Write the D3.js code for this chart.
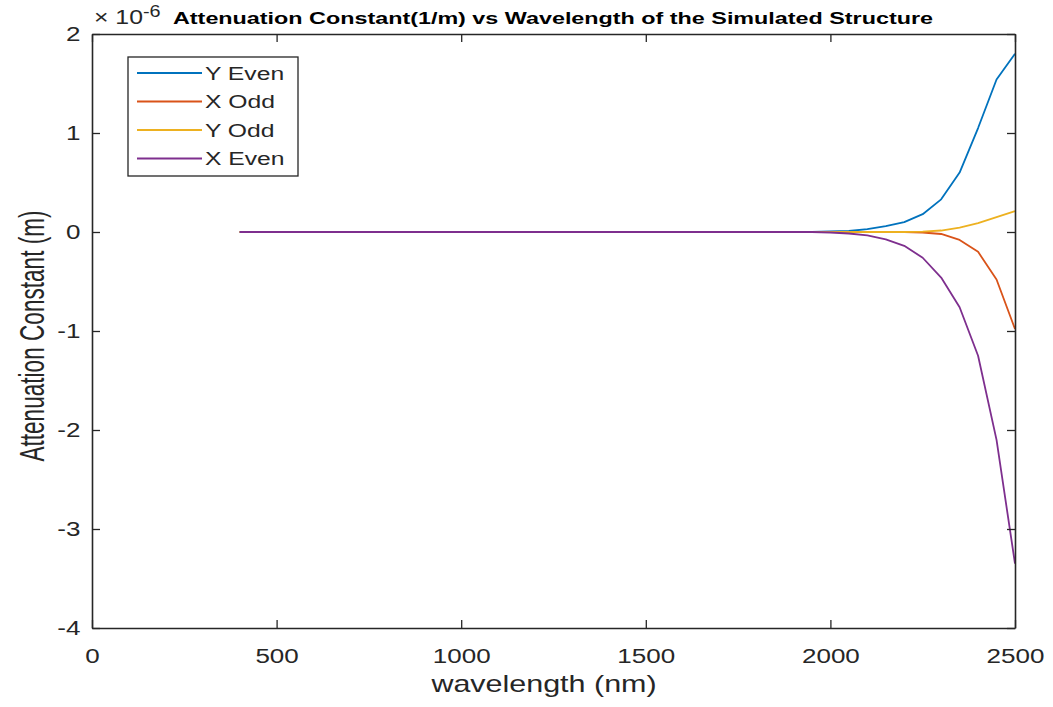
<!DOCTYPE html>
<html>
<head>
<meta charset="utf-8">
<script src="https://cdn.jsdelivr.net/npm/d3@7"></script>
<style>
  html, body { margin: 0; padding: 0; background: #fff; }
  svg { display: block; font-family: "Liberation Sans", Arial, Helvetica, sans-serif; }
</style>
</head>
<body>
<svg id="chart" width="1053" height="707"></svg>
<script>
// Wavelength samples (nm)
const wavelength = [
  400, 450, 500, 550, 600, 650, 700, 750, 800, 850,
  900, 950, 1000, 1050, 1100, 1150, 1200, 1250, 1300, 1350,
  1400, 1450, 1500, 1550, 1600, 1650, 1700, 1750, 1800, 1850,
  1900, 1950, 2000, 2050, 2100, 2150, 2200, 2250, 2300, 2350,
  2400, 2450, 2500
];

// Attenuation constant per mode, in units of 1e-6
const yEven = [
  0, 0, 0, 0, 0, 0, 0, 0, 0, 0,
  0, 0, 0, 0, 0, 0, 0, 0, 0, 0,
  0, 0, 0, 0, 0, 0, 0, 0, 0, 0,
  0, 0, 0.005, 0.01, 0.03, 0.06, 0.1, 0.18, 0.33, 0.6,
  1.05, 1.54, 1.8
];
const xOdd = [
  0, 0, 0, 0, 0, 0, 0, 0, 0, 0,
  0, 0, 0, 0, 0, 0, 0, 0, 0, 0,
  0, 0, 0, 0, 0, 0, 0, 0, 0, 0,
  0, 0, 0, 0, 0, 0, 0, -0.005, -0.02, -0.08,
  -0.2, -0.48, -0.98
];
const yOdd = [
  0, 0, 0, 0, 0, 0, 0, 0, 0, 0,
  0, 0, 0, 0, 0, 0, 0, 0, 0, 0,
  0, 0, 0, 0, 0, 0, 0, 0, 0, 0,
  0, 0, 0, 0, 0, 0, 0, 0.003, 0.015, 0.045,
  0.09, 0.15, 0.21
];
const xEven = [
  0, 0, 0, 0, 0, 0, 0, 0, 0, 0,
  0, 0, 0, 0, 0, 0, 0, 0, 0, 0,
  0, 0, 0, 0, 0, 0, 0, 0, 0, 0,
  0, 0, -0.005, -0.015, -0.035, -0.075, -0.14, -0.26, -0.46, -0.76,
  -1.25, -2.1, -3.35
];

const seriesNames = ["Y Even", "X Odd", "Y Odd", "X Even"];
const seriesValues = [yEven, xOdd, yOdd, xEven];
const seriesColors = ["#0072BD", "#D95319", "#EDB120", "#7E2F8E"];

const xTicks = [0, 500, 1000, 1500, 2000, 2500];
const yTicks = [-4, -3, -2, -1, 0, 1, 2];

const titleText = "Attenuation Constant(1/m) vs Wavelength of the Simulated Structure";
const xLabelText = "wavelength (nm)";
const yLabelText = "Attenuation Constant (m)";

// Layout
const plot = { left: 92, right: 1015, top: 34, bottom: 628 };
const axisColor = "#262626";
const tickLen = 8;
const wide = 1.24;   // horizontal widening applied to the text glyphs

const svg = d3.select("#chart");

const x = d3.scaleLinear().domain([0, 2500]).range([plot.left, plot.right]);
const y = d3.scaleLinear().domain([-4, 2]).range([plot.bottom, plot.top]);

// Data lines
const line = d3.line()
  .x((d, i) => x(wavelength[i]))
  .y(d => y(d));

const g = svg.append("g");
seriesValues.forEach((vals, k) => {
  g.append("path")
    .datum(vals)
    .attr("fill", "none")
    .attr("stroke", seriesColors[k])
    .attr("stroke-width", 1.8)
    .attr("stroke-linejoin", "round")
    .attr("d", line);
});

// Axes box with inward ticks on all four sides
const plain = d => String(d);
const bottomAxis = d3.axisBottom(x).tickValues(xTicks).tickSizeInner(-tickLen).tickSizeOuter(0).tickFormat(plain);
const topAxis = d3.axisTop(x).tickValues(xTicks).tickSizeInner(-tickLen).tickSizeOuter(0).tickFormat("");
const leftAxis = d3.axisLeft(y).tickValues(yTicks).tickSizeInner(-tickLen).tickSizeOuter(0).tickFormat(plain);
const rightAxis = d3.axisRight(y).tickValues(yTicks).tickSizeInner(-tickLen).tickSizeOuter(0).tickFormat("");

function styleAxis(sel) {
  sel.select(".domain").attr("stroke", axisColor).attr("stroke-width", 1.6);
  sel.selectAll(".tick line").attr("stroke", axisColor).attr("stroke-width", 1.3);
  sel.selectAll(".tick text")
    .attr("fill", axisColor)
    .style("font-size", "21px")
    .style("font-family", "'Liberation Sans', Arial, sans-serif");
}

svg.append("g").attr("transform", `translate(0,${plot.bottom})`).call(bottomAxis).call(styleAxis)
  .selectAll(".tick text")
  .attr("y", 35).attr("dy", 0)
  .attr("transform", `scale(${wide},1)`);
svg.append("g").attr("transform", `translate(0,${plot.top})`).call(topAxis).call(styleAxis);
svg.append("g").attr("transform", `translate(${plot.left},0)`).call(leftAxis).call(styleAxis)
  .selectAll(".tick text")
  .attr("x", -11.5 / wide)
  .attr("transform", `scale(${wide},1)`);
svg.append("g").attr("transform", `translate(${plot.right},0)`).call(rightAxis).call(styleAxis);

// Exponent marker above the y axis
const expo = svg.append("text")
  .attr("transform", `translate(94,24) scale(${wide},1)`)
  .attr("fill", axisColor)
  .style("font-size", "20px");
expo.append("tspan").text("\u00d7 10");
expo.append("tspan").attr("dy", -7).style("font-size", "16px").text("-6");

// Title
svg.append("text")
  .attr("x", 173).attr("y", 24)
  .attr("fill", "#000")
  .style("font-size", "16px")
  .style("font-weight", "bold")
  .attr("textLength", 760)
  .attr("lengthAdjust", "spacingAndGlyphs")
  .text(titleText);

// Axis labels
svg.append("text")
  .attr("transform", `translate(544,692) scale(${wide + 0.03},1)`)
  .attr("text-anchor", "middle")
  .attr("fill", axisColor)
  .style("font-size", "24px")
  .text(xLabelText);

svg.append("text")
  .attr("transform", `translate(44,336) scale(1.55,1) rotate(-90)`)
  .attr("text-anchor", "middle")
  .attr("fill", axisColor)
  .style("font-size", "22.6px")
  .text(yLabelText);

// Legend
const legend = svg.append("g");
legend.append("rect")
  .attr("x", 128).attr("y", 57)
  .attr("width", 170).attr("height", 119)
  .attr("fill", "#fff")
  .attr("stroke", axisColor)
  .attr("stroke-width", 1.3);

seriesNames.forEach((name, k) => {
  const ry = 73 + k * 28.5;
  legend.append("line")
    .attr("x1", 137).attr("x2", 202)
    .attr("y1", ry).attr("y2", ry)
    .attr("stroke", seriesColors[k])
    .attr("stroke-width", 1.8);
  legend.append("text")
    .attr("transform", `translate(205,${ry}) scale(1.3,1)`)
    .attr("dy", "0.36em")
    .attr("fill", axisColor)
    .style("font-size", "19px")
    .text(name);
});
</script>
</body>
</html>
